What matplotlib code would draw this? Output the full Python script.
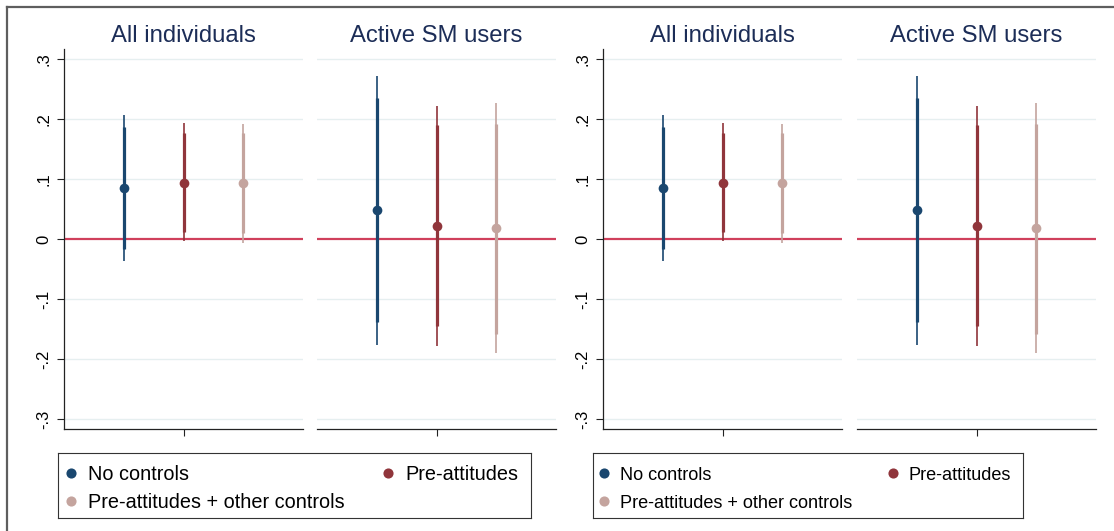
import matplotlib
matplotlib.use("Agg")
import matplotlib.pyplot as plt

plt.rcParams['font.family'] = ['Liberation Sans', 'DejaVu Sans']

groups = ["All individuals", "Active SM users"]
series = ["No controls", "Pre-attitudes", "Pre-attitudes + other controls"]
colors = ["#1a476f", "#90353b", "#c4a49e"]

# point estimates with 90% (thick) and 95% (thin) intervals, one row per group
coef = [[0.085, 0.094, 0.093],
        [0.049, 0.022, 0.018]]
lo90 = [[-0.016, 0.012, 0.010],
        [-0.139, -0.145, -0.158]]
hi90 = [[0.186, 0.176, 0.176],
        [0.235, 0.190, 0.192]]
lo95 = [[-0.037, -0.004, -0.006],
        [-0.176, -0.179, -0.190]]
hi95 = [[0.206, 0.193, 0.192],
        [0.272, 0.222, 0.226]]

yticks = [-0.3, -0.2, -0.1, 0, 0.1, 0.2, 0.3]
ytick_labels = ["-.3", "-.2", "-.1", "0", ".1", ".2", ".3"]

W, H = 1114, 531
fig = plt.figure(figsize=(W / 100, H / 100), dpi=100)

def px(x0, y0, w, h):
    # pixel box (top-left origin) -> figure fraction
    return [x0 / W, (H - y0 - h) / H, w / W, h / H]

# two identical graphs side by side; legend slots are in legend-box pixels
halves = [
    {"axes_x": [64, 317], "legend": (58, 473), "fs": 14.3,
     "slots": [(13, 20), (330, 20), (13, 48)], "gap": 17},
    {"axes_x": [603, 857], "legend": (593, 430), "fs": 13.1,
     "slots": [(11, 20), (300, 20), (11, 48)], "gap": 16},
]
offsets = [-1, 0, 1]

for half in halves:
    for g, ax_x in enumerate(half["axes_x"]):
        ax = fig.add_axes(px(ax_x, 49, 239, 380))
        ax.set_xlim(-2, 2)
        ax.set_ylim(-0.3167, 0.3167)
        for yv in [-0.3, -0.2, -0.1, 0.1, 0.2, 0.3]:
            ax.axhline(yv, color="#e6eff0", lw=1, zorder=0)
        ax.axhline(0, color="#d0405c", lw=1.6, zorder=1)
        for i in range(3):
            ax.plot([offsets[i], offsets[i]], [lo95[g][i], hi95[g][i]],
                    color=colors[i], lw=1.2, solid_capstyle="butt", zorder=2)
            ax.plot([offsets[i], offsets[i]], [lo90[g][i], hi90[g][i]],
                    color=colors[i], lw=2.3, solid_capstyle="butt", zorder=3)
            ax.plot(offsets[i], coef[g][i], "o", color=colors[i],
                    ms=7, mec="none", zorder=4)
        ax.set_title(groups[g], fontsize=17.2, color="#1c2d57", pad=5)
        ax.set_xticks([0])
        ax.set_xticklabels([""])
        ax.tick_params(axis="x", length=5, width=0.8, color="#222222")
        for s in ["top", "right"]:
            ax.spines[s].set_visible(False)
        ax.spines["bottom"].set_linewidth(0.9)
        ax.spines["bottom"].set_color("#222222")
        if g == 0:
            ax.set_yticks(yticks)
            ax.set_yticklabels(ytick_labels, fontsize=12, rotation=90, va="center")
            ax.tick_params(axis="y", length=5, width=0.8, color="#222222", pad=4)
            ax.spines["left"].set_linewidth(0.9)
            ax.spines["left"].set_color("#222222")
        else:
            ax.set_yticks([])
            ax.spines["left"].set_visible(False)
        ax.patch.set_visible(False)

    # legend box: a small axes in pixel units, rows read across
    lx, lw = half["legend"]
    lax = fig.add_axes(px(lx, 453, lw, 65))
    lax.set_xlim(0, lw)
    lax.set_ylim(65, 0)
    lax.set_xticks([])
    lax.set_yticks([])
    for s in lax.spines.values():
        s.set_linewidth(0.8)
        s.set_color("#333333")
    cap = 0.716 * half["fs"] * 100 / 72
    for i, (sx, sy) in enumerate(half["slots"]):
        lax.plot(sx, sy, "o", color=colors[i], ms=7.3, mec="none")
        lax.text(sx + half["gap"], sy + cap / 2, series[i], fontsize=half["fs"],
                 va="baseline", ha="left", color="black")

# outer frame on the left and top edges
fig.add_artist(plt.Line2D([7 / W, 7 / W], [0, (H - 7) / H], color="#5e5e5e", lw=1.6))
fig.add_artist(plt.Line2D([7 / W, 1], [(H - 7) / H, (H - 7) / H], color="#5e5e5e", lw=1.6))

fig.savefig("out.png", dpi=100)
